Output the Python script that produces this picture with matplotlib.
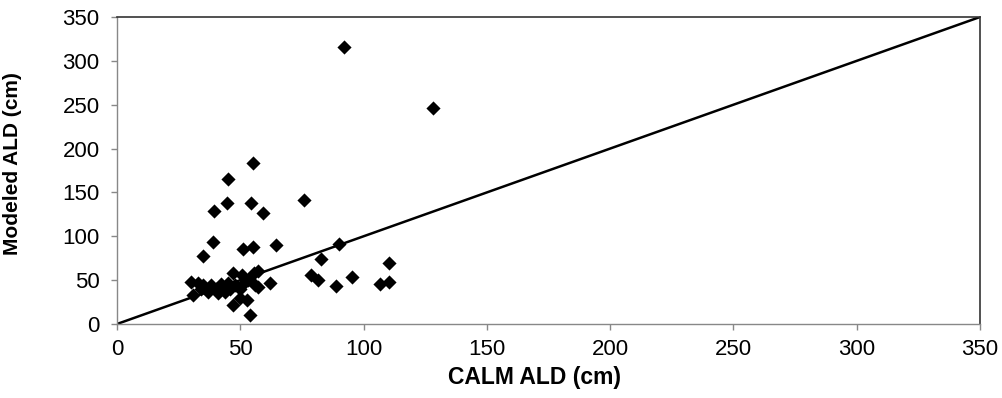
import matplotlib
matplotlib.use("Agg")
import matplotlib.pyplot as plt

calm_ald = [92, 128, 55, 45, 76, 44.6, 54.3, 39.3, 59.2, 39, 35, 51, 55, 64.5,
            90, 82.7, 110.3, 95.3, 78.7, 81.5, 88.8, 106.6, 110.3,
            30, 31, 33, 34, 35, 37, 38, 40, 42, 43, 45, 46, 47, 48, 50, 50.7,
            52, 53, 55.6, 56, 57, 52.7, 50, 47, 54, 57, 62, 44, 41]
modeled_ald = [316, 246, 183.6, 165, 141.4, 138, 138, 129, 126.6, 93.5, 77, 85.5, 88, 90,
               91, 74, 69.5, 53.6, 56, 50, 43.3, 45.6, 48,
               48, 33, 47, 40, 45, 36, 44, 40, 46, 42, 47, 40, 58, 45, 40, 56,
               48, 50, 58, 45, 60, 27, 30, 22, 10, 42, 47, 36, 35]

x_ticks = [0, 50, 100, 150, 200, 250, 300, 350]
y_ticks = [0, 50, 100, 150, 200, 250, 300, 350]
one_to_one = [0, 350]

plt.rcParams['font.family'] = ['Liberation Sans', 'DejaVu Sans']

fig = plt.figure(figsize=(10.03, 3.98), dpi=100)
ax = fig.add_axes([117/1003, 1-324/398, (980-117)/1003, (324-17)/398])

ax.plot(one_to_one, one_to_one, color='black', lw=1.8, zorder=2)
ax.scatter(calm_ald, modeled_ald, marker='D', s=52, color='black', zorder=3, linewidths=0)

ax.set_xlim(0, 350)
ax.set_ylim(0, 350)
ax.set_xticks(x_ticks)
ax.set_yticks(y_ticks)
ax.tick_params(axis='both', labelsize=16, direction='out', length=4.5, color='#888888', width=1)
ax.tick_params(axis='x', pad=6)
ax.tick_params(axis='y', pad=8)
for s in ['left', 'bottom']:
    ax.spines[s].set_color('#888888')
    ax.spines[s].set_linewidth(1)
for s in ['top', 'right']:
    ax.spines[s].set_color('#333333')
    ax.spines[s].set_linewidth(1.2)

ax.set_xlabel('CALM ALD (cm)', fontsize=16.5, fontweight='bold')
ax.xaxis.set_label_coords((535-117)/863, -(366-324)/307)
ax.set_ylabel('Modeled ALD (cm)', fontsize=15, fontweight='bold')
ax.yaxis.set_label_coords((22-117)/863, (324-164)/307)

fig.savefig('out.png', dpi=100)
